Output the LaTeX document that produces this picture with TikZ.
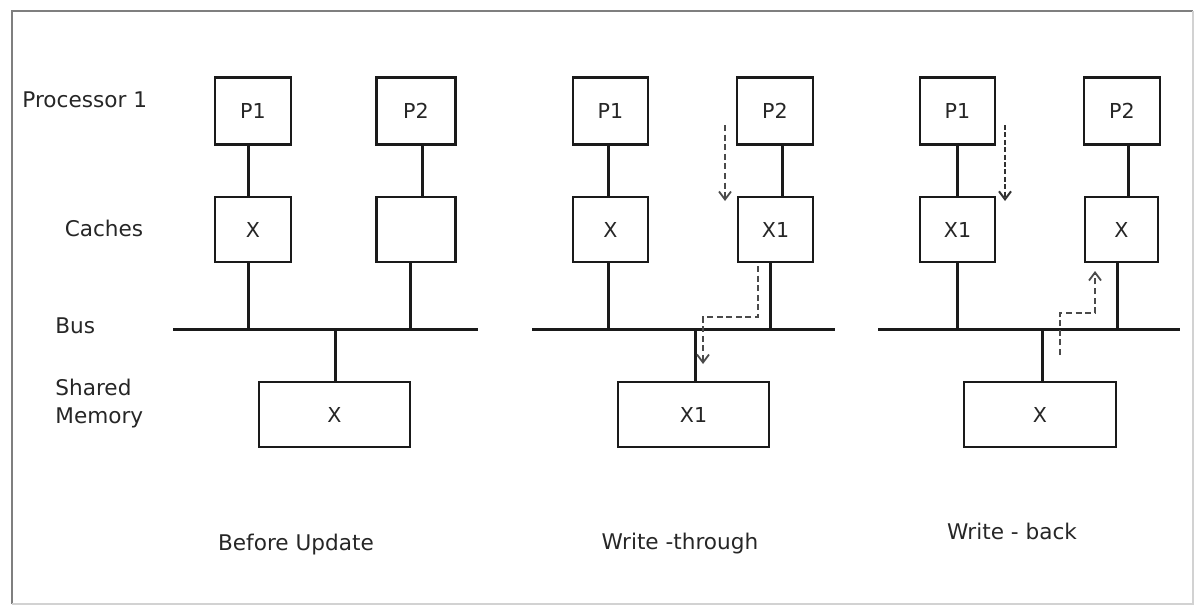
\documentclass[tikz,border=0pt]{standalone}
\usepackage{fontspec}
\setmainfont{DejaVu Sans}
\usetikzlibrary{arrows.meta}
\definecolor{ink}{HTML}{1A1A1A}
\definecolor{txt}{HTML}{262626}
\definecolor{frame}{HTML}{7F7F7F}
\definecolor{flowc}{HTML}{4A4A4A}
\tikzset{
  unit/.style={draw=ink, line width=1.25pt, minimum height=32.5pt, inner sep=0pt,
    text=txt, font=\fontsize{10.3}{12}\selectfont},
  cpu/.style={unit, minimum height=33.5pt},
  mem/.style={unit, line width=1.1pt},
  wire/.style={draw=ink, line width=1.5pt},
  busline/.style={draw=ink, line width=1.5pt},
  flow/.style={draw=flowc, line width=0.9pt, dash pattern=on 3pt off 1.8pt,
    -{Straight Barb[length=4pt,width=6pt,line width=0.9pt]}},
  boldflow/.style={draw=ink!90, line width=1.4pt, dash pattern=on 2.5pt off 1.2pt,
    -{Straight Barb[length=4pt,width=6pt,line width=1pt]}},
  lbl/.style={text=txt, font=\fontsize{10.8}{14}\selectfont, inner sep=0pt}
}
\begin{document}
\begin{tikzpicture}[x=0.5pt,y=-0.5pt]
\useasboundingbox (0,0) rectangle (1195,606);
% outer frame
\draw[frame, line width=0.9pt] (12,604) -- (12,11) -- (1193,11);
\draw[frame!35, line width=0.6pt] (1193,11) -- (1193,604) -- (12,604);

% row labels
\node[lbl, anchor=west] (lproc) at (22,100) {Processor 1};
\node[lbl] (lcache) at (104,228) {Caches};
\node[lbl, anchor=west] (lbus) at (55,326) {Bus};
\node[lbl, anchor=west, align=left] (lmem) at (55,404) {Shared\\Memory};

% ---------- before update ----------
\node[cpu, minimum width=38pt] (aP1) at (253,111) {P1};
\node[cpu, minimum width=39.5pt] (aP2) at (416,111) {P2};
\node[unit, minimum width=38pt] (aC1) at (253,229.5) {X};
\node[unit, minimum width=39.5pt] (aC2) at (416,229.5) {};
\node[mem, minimum width=75.5pt] (aM) at (334.5,414.5) {X};
\coordinate (aBl) at (173,329);
\coordinate (aBr) at (478,329);
\coordinate (aJ1) at (248,329);
\coordinate (aJ2) at (410,329);
\coordinate (aJm) at (335,329);
\draw[busline] (aBl) -- (aBr);
\draw[wire] (aP1.south -| aJ1) -- (aC1.north -| aJ1);
\draw[wire] (aC1.south -| aJ1) -- (aJ1);
\draw[wire] (aP2.south -| 422,0) -- (aC2.north -| 422,0);
\draw[wire] (aC2.south -| aJ2) -- (aJ2);
\draw[wire] (aJm) -- (aM.north -| aJm);
\node[lbl] (tA) at (296,545) {Before Update};

% ---------- write-through ----------
\node[cpu, minimum width=37.5pt] (bP1) at (610.5,111) {P1};
\node[cpu, minimum width=38pt] (bP2) at (775,111) {P2};
\node[unit, minimum width=37.5pt] (bC1) at (610.5,229.5) {X};
\node[unit, minimum width=37.5pt] (bC2) at (775.5,229.5) {X1};
\node[mem, minimum width=75.5pt] (bM) at (693.5,414.5) {X1};
\coordinate (bBl) at (532,329);
\coordinate (bBr) at (835,329);
\coordinate (bJ1) at (608,329);
\coordinate (bJ2) at (770,329);
\coordinate (bJm) at (695,329);
\draw[busline] (bBl) -- (bBr);
\draw[wire] (bP1.south -| bJ1) -- (bC1.north -| bJ1);
\draw[wire] (bC1.south -| bJ1) -- (bJ1);
\draw[wire] (bP2.south -| 782,0) -- (bC2.north -| 782,0);
\draw[wire] (bC2.south -| bJ2) -- (bJ2);
\draw[wire] (bJm) -- (bM.north -| bJm);
\coordinate (bW0) at (725,125);
\coordinate (bW1) at (725,201);
\draw[flow] (bW0) -- (bW1);
\coordinate (bT0) at (758,266);
\coordinate (bT1) at (703,364);
\draw[flow] (bT0) |- (703,317) -- (bT1);
\node[lbl] (tB) at (680,544) {Write -through};

% ---------- write-back ----------
\node[cpu, minimum width=37.5pt] (cP1) at (957.5,111) {P1};
\node[cpu, minimum width=38pt] (cP2) at (1122,111) {P2};
\node[unit, minimum width=37.5pt] (cC1) at (957.5,229.5) {X1};
\node[unit, minimum width=36.5pt] (cC2) at (1121.5,229.5) {X};
\node[mem, minimum width=76pt] (cM) at (1040,414.5) {X};
\coordinate (cBl) at (878,329);
\coordinate (cBr) at (1180,329);
\coordinate (cJ1) at (957,329);
\coordinate (cJ2) at (1117,329);
\coordinate (cJm) at (1042,329);
\draw[busline] (cBl) -- (cBr);
\draw[wire] (cP1.south -| cJ1) -- (cC1.north -| cJ1);
\draw[wire] (cC1.south -| cJ1) -- (cJ1);
\draw[wire] (cP2.south -| 1128,0) -- (cC2.north -| 1128,0);
\draw[wire] (cC2.south -| cJ2) -- (cJ2);
\draw[wire] (cJm) -- (cM.north -| cJm);
\coordinate (cW0) at (1005,125);
\coordinate (cW1) at (1005,201);
\draw[boldflow] (cW0) -- (cW1);
\coordinate (cR0) at (1060,355);
\coordinate (cR1) at (1095,271);
\draw[flow] (cR0) |- (1095,313) -- (cR1);
\node[lbl] (tC) at (1012,531) {Write - back};
\end{tikzpicture}
\end{document}
